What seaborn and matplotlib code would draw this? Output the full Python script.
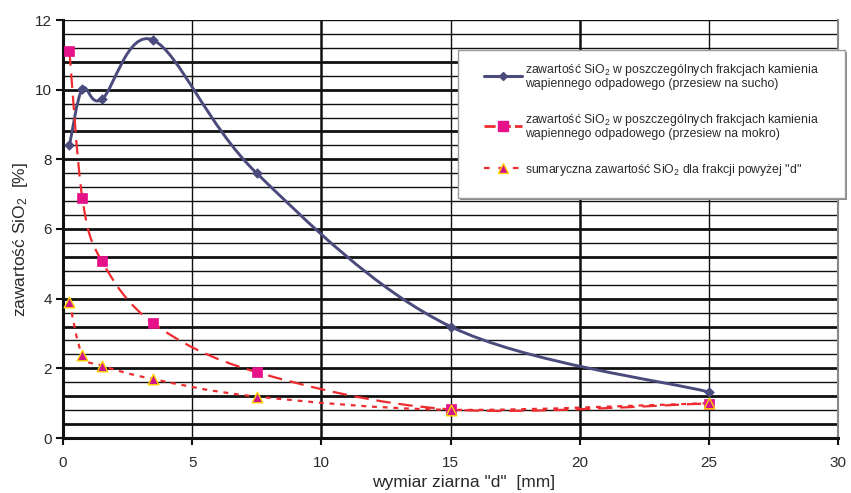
import numpy as np
import pandas as pd
import matplotlib
matplotlib.use("Agg")
import matplotlib.pyplot as plt
import seaborn as sns
from matplotlib.path import Path
from matplotlib.patches import PathPatch, Rectangle
from matplotlib.lines import Line2D

# ---- data -------------------------------------------------------------
x_mm = [0.25, 0.75, 1.5, 3.5, 7.5, 15, 25]
sio2_dry = [8.4, 10.02, 9.72, 11.42, 7.6, 3.2, 1.32]
sio2_wet = [11.1, 6.88, 5.08, 3.29, 1.89, 0.82, 0.99]
sio2_cum = [3.9, 2.38, 2.08, 1.69, 1.19, 0.81, 1.0]

label_dry = "zawartość SiO$_2$ w poszczególnych frakcjach kamienia\nwapiennego odpadowego (przesiew na sucho)"
label_wet = "zawartość SiO$_2$ w poszczególnych frakcjach kamienia\nwapiennego odpadowego (przesiew na mokro)"
label_cum = "sumaryczna zawartość SiO$_2$ dla frakcji powyżej \"d\""

x_ticks = [0, 5, 10, 15, 20, 25, 30]
y_ticks = [0, 2, 4, 6, 8, 10, 12]
x_label = "wymiar ziarna \"d\"  [mm]"
y_label = "zawartość SiO$_2$  [%]"

# ---- style ------------------------------------------------------------
sns.set_theme(style="white")
plt.rcParams["font.family"] = ["Liberation Sans", "DejaVu Sans"]
plt.rcParams["mathtext.fontset"] = "custom"
plt.rcParams["mathtext.rm"] = "Liberation Sans"
plt.rcParams["mathtext.it"] = "Liberation Sans"
plt.rcParams["mathtext.default"] = "rm"

BLUE = "#4a4a7c"
RED = "#ee2b2f"
PINK = "#e5128a"
TRI = "#d0158c"
YEL = "#ffd400"
TXT = "#2a2a2a"

W, H = 851, 493
fig = plt.figure(figsize=(W / 100, H / 100), dpi=100)
ax = fig.add_axes([63 / W, 1 - 438 / H, 775 / W, 418 / H])

ax.set_xlim(0, 30)
ax.set_ylim(0, 12)

# ---- grid (Excel-like minor grid, scanned look) ----------------------
thick_levels = [0.4, 1.2, 2, 3.2, 4, 5.2, 6, 8, 8.8, 10, 10.8]
for v in np.arange(0.4, 12.0, 0.4):
    v = round(v, 1)
    lw = 2.0 if any(abs(v - t) < 1e-6 for t in thick_levels) else 1.0
    ax.axhline(v, color="#111111", lw=lw, zorder=1)
ax.axhline(12, color="#111111", lw=1.0, zorder=1)
for xv in [5, 15, 25]:
    ax.axvline(xv, color="#111111", lw=1.0, zorder=1)
for xv in [10, 20]:
    ax.axvline(xv, color="#111111", lw=1.8, zorder=1)


# ---- smoothed lines (Excel style Bezier through the data) ------------
def smooth_path(xs, ys):
    pts = np.column_stack([xs, ys]).astype(float)
    n = len(pts)
    verts = [pts[0]]
    codes = [Path.MOVETO]
    for i in range(n - 1):
        p0 = pts[i - 1] if i > 0 else pts[i]
        p1 = pts[i]
        p2 = pts[i + 1]
        p3 = pts[i + 2] if i + 2 < n else pts[i + 1]
        c1 = p1 + (p2 - p0) / 6.0
        c2 = p2 - (p3 - p1) / 6.0
        verts += [c1, c2, p2]
        codes += [Path.CURVE4] * 3
    return Path(verts, codes)


ax.add_patch(PathPatch(smooth_path(x_mm, sio2_dry), fill=False, ec=BLUE, lw=2.1,
                       capstyle="round", joinstyle="round", zorder=3))
ax.add_patch(PathPatch(smooth_path(x_mm, sio2_wet), fill=False, ec=RED, lw=1.6,
                       linestyle=(0, (6.5, 3.5)), zorder=3))
ax.add_patch(PathPatch(smooth_path(x_mm, sio2_cum), fill=False, ec=RED, lw=1.6,
                       linestyle=(0, (2.2, 2.6)), zorder=3))

df = pd.DataFrame({"x": x_mm, "dry": sio2_dry, "wet": sio2_wet, "cum": sio2_cum})
sns.scatterplot(data=df, x="x", y="dry", marker="D", s=24, color=BLUE,
                edgecolor=BLUE, linewidth=0.5, ax=ax, zorder=4, legend=False)
sns.scatterplot(data=df, x="x", y="wet", marker="s", s=58, color=PINK,
                edgecolor=PINK, linewidth=0.5, ax=ax, zorder=4, legend=False)
sns.scatterplot(data=df, x="x", y="cum", marker="^", s=58, color=TRI,
                edgecolor=YEL, linewidth=1.0, ax=ax, zorder=5, legend=False)

# ---- axes, ticks, labels ---------------------------------------------
ax.set_xticks(x_ticks)
ax.set_yticks(y_ticks)
ax.tick_params(axis="both", which="major", direction="out", length=5, width=1.5,
               color="#111111", labelsize=11, labelcolor=TXT,
               bottom=True, left=True)
ax.tick_params(axis="y", pad=3)
ax.tick_params(axis="x", pad=8)
for s in ["left", "bottom"]:
    ax.spines[s].set_color("#111111")
    ax.spines[s].set_linewidth(2.2)
ax.spines["top"].set_visible(False)
ax.spines["right"].set_color("#888888")
ax.spines["right"].set_linewidth(1.5)

ax.set_xlabel(x_label, fontsize=12.5, color=TXT)
ax.set_ylabel(y_label, fontsize=12.5, color=TXT)
ax.xaxis.set_label_coords((464 - 63) / 775, -(483 - 438) / 418)
ax.yaxis.set_label_coords(-(63 - 21) / 775, (438 - 240) / 418)
ax.xaxis.label.set_va("center")
ax.yaxis.label.set_va("center")

# ---- legend (frame drawn separately, Excel-like box with shadow) -----
shadow = Rectangle(((458 + 2) / W, 1 - (198 + 2) / H), 387 / W, 148 / H,
                   transform=fig.transFigure, fc="#8a8a8a", ec="none", zorder=5)
box = Rectangle((458 / W, 1 - 198 / H), 387 / W, 148 / H,
                transform=fig.transFigure, fc="white", ec="#9a9a9a", lw=1.0, zorder=6)
fig.add_artist(shadow)
fig.add_artist(box)

handles = [
    Line2D([0], [0], color=BLUE, lw=2.2, marker="D", ms=4, mfc=BLUE, mec=BLUE),
    Line2D([0], [0], color=RED, lw=2.0, linestyle=(0, (4, 1.5)), marker="s", ms=7,
           mfc=PINK, mec=PINK),
    Line2D([0], [0], color=RED, lw=1.6, linestyle=(0, (2.5, 4)), marker="^", ms=7,
           mfc=TRI, mec=YEL, mew=1.0),
]
leg = fig.legend(handles, [label_dry, label_wet, label_cum],
                 loc="upper left", bbox_to_anchor=(484 / W, 1 - 62 / H),
                 fontsize=8.8, frameon=False,
                 handlelength=3.1, handletextpad=0.25, labelspacing=1.75,
                 borderpad=0, borderaxespad=0, labelcolor=TXT)
for t in leg.get_texts():
    t.set_linespacing(1.05)
leg.set_zorder(7)

fig.savefig("out.png", dpi=100)
